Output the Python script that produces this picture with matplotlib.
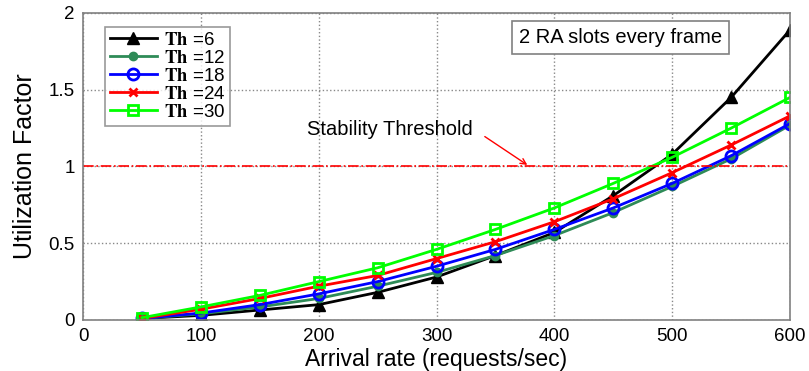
import matplotlib
matplotlib.use("Agg")
import matplotlib.pyplot as plt

plt.rcParams['font.family'] = ['Liberation Sans', 'DejaVu Sans']
plt.rcParams['mathtext.fontset'] = 'stix'

arrival = [50, 100, 150, 200, 250, 300, 350, 400, 450, 500, 550, 600]
th6 = [0.01, 0.03, 0.065, 0.10, 0.18, 0.28, 0.42, 0.57, 0.81, 1.08, 1.45, 1.89]
th12 = [0.01, 0.04, 0.085, 0.14, 0.22, 0.31, 0.42, 0.55, 0.70, 0.87, 1.05, 1.27]
th18 = [0.01, 0.045, 0.10, 0.17, 0.25, 0.35, 0.46, 0.59, 0.73, 0.89, 1.07, 1.28]
th24 = [0.01, 0.07, 0.14, 0.22, 0.29, 0.40, 0.51, 0.64, 0.79, 0.96, 1.14, 1.33]
th30 = [0.015, 0.085, 0.16, 0.25, 0.34, 0.46, 0.59, 0.73, 0.89, 1.06, 1.25, 1.45]
labels = [r'$\mathbf{Th}$ =6', r'$\mathbf{Th}$ =12', r'$\mathbf{Th}$ =18',
          r'$\mathbf{Th}$ =24', r'$\mathbf{Th}$ =30']
threshold = 1.0

fig = plt.figure(figsize=(8.09, 3.71), dpi=100)
ax = fig.add_axes([0.1026, 0.1375, 0.874, 0.8275])

ax.plot(arrival, th6, color='black', marker='^', ms=8, lw=2, label=labels[0])
ax.plot(arrival, th12, color='#2e8b57', marker='o', ms=6, lw=2, label=labels[1])
ax.plot(arrival, th18, color='blue', marker='o', ms=8, mfc='none', mew=2, lw=2, label=labels[2])
ax.plot(arrival, th24, color='red', marker='x', ms=6, mew=2, lw=2, label=labels[3])
ax.plot(arrival, th30, color='#00ff00', marker='s', ms=7, mfc='none', mew=2, lw=2, label=labels[4])

ax.axhline(threshold, color='red', ls='-.', lw=1.2)

ax.set_xlim(0, 600)
ax.set_ylim(0, 2)
ax.set_xticks([0, 100, 200, 300, 400, 500, 600])
ax.set_yticks([0, 0.5, 1, 1.5, 2])
ax.set_yticklabels(['0', '0.5', '1', '1.5', '2'])
ax.grid(True, ls=':', color='#888888', lw=1)
for s in ax.spines.values():
    s.set_color('#808080')
    s.set_linewidth(1.2)
ax.tick_params(labelsize=13.5, colors='#333333', length=0, pad=6)
for t in ax.get_xticklabels() + ax.get_yticklabels():
    t.set_color('black')

ax.set_xlabel('Arrival rate (requests/sec)', fontsize=16.5, labelpad=2)
ax.set_ylabel('Utilization Factor', fontsize=18, labelpad=8)

leg = ax.legend(loc='upper left', fontsize=13.5, frameon=True, fancybox=False,
                edgecolor='#808080', handlelength=2.5, borderpad=0.25,
                labelspacing=0.05, handletextpad=0.4, bbox_to_anchor=(0.018, 0.985))
leg.get_frame().set_linewidth(1.2)

ax.text(0.76, 0.919, '2 RA slots every frame', transform=ax.transAxes, fontsize=14.5,
        va='center', ha='center',
        bbox=dict(boxstyle='square,pad=0.35', fc='white', ec='#808080', lw=1.2))

ax.text(190, 1.24, 'Stability Threshold', fontsize=14.5, va='center', ha='left')
ax.annotate('', xy=(379, threshold), xytext=(339, 1.205),
            arrowprops=dict(arrowstyle='->', color='red', lw=1))

fig.savefig('out.png', dpi=100)
